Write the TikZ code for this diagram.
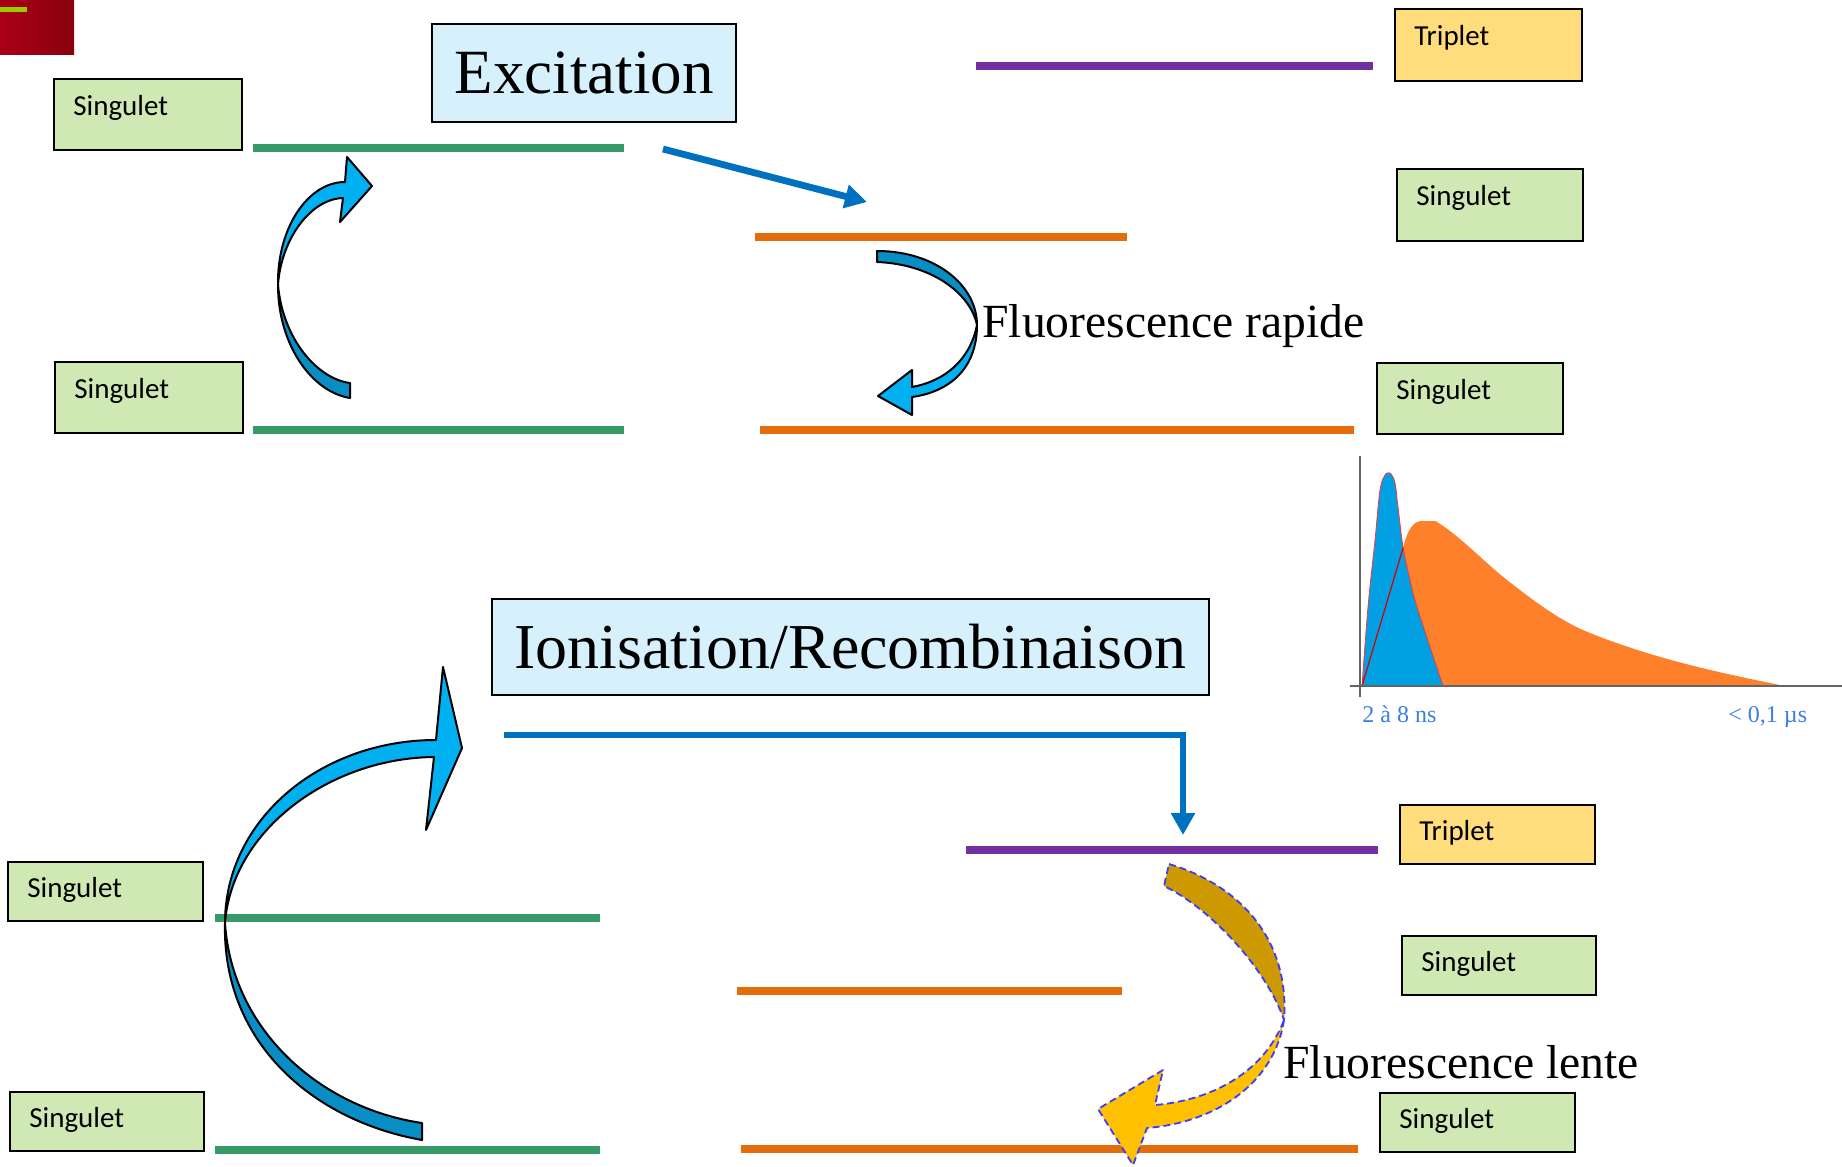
\documentclass[tikz,border=0pt]{standalone}
\usepackage{fontspec}
\setmainfont{Liberation Serif}
\newfontfamily\carl{Carlito}
\usetikzlibrary{arrows.meta}
\definecolor{lvlgreen}{RGB}{55,155,105}
\definecolor{lvlorange}{RGB}{228,108,10}
\definecolor{lvlpurple}{RGB}{112,48,160}
\definecolor{boxgreen}{RGB}{208,233,180}
\definecolor{boxgold}{RGB}{255,221,125}
\definecolor{titleblue}{RGB}{214,241,251}
\definecolor{arrblue}{RGB}{0,112,192}
\definecolor{ribbright}{RGB}{0,176,240}
\definecolor{ribdark}{RGB}{8,142,196}
\definecolor{golddark}{RGB}{204,153,0}
\definecolor{goldbright}{RGB}{255,192,0}
\definecolor{dashblue}{RGB}{60,60,255}
\definecolor{chartblue}{RGB}{0,160,227}
\definecolor{chartorange}{RGB}{255,128,42}
\definecolor{labblue}{RGB}{60,125,230}
\definecolor{axisgray}{RGB}{100,100,100}
\definecolor{redA}{RGB}{170,0,22}
\definecolor{redB}{RGB}{138,0,12}
\definecolor{limebar}{RGB}{153,204,0}
\newcommand\lvlbox[8]{% name x y w h fill text baseline-offset
  \node[lbox, fill=#6, minimum width=#4*0.5pt, minimum height=#5*0.5pt, anchor=north west] (#1) at (#2,#3) {};
  \node[ltext, anchor=base west] (#1t) at ([shift={(20,#8)}]#1.north west) {#7};
}
\begin{document}
\begin{tikzpicture}[x=0.5pt,y=-0.5pt,
  lbox/.style={draw=black, line width=1pt, inner sep=0pt, rectangle},
  ltext/.style={inner sep=0pt, font=\carl\fontsize{14.5}{17}\selectfont},
  titlebox/.style={draw=black, line width=1pt, fill=titleblue, inner sep=0pt, rectangle},
  lvl/.style={line width=3.9pt},
  barrow/.style={draw=arrblue, line width=3.4pt, -{Triangle[length=11pt,width=11.5pt]}},
  rib/.style={draw=black, line width=1pt, line join=round},
  gribbon/.style={draw=dashblue, line width=0.9pt, dash pattern=on 3.5pt off 2pt, line join=round},
  fluo/.style={inner sep=0pt, font=\fontsize{23.8}{28}\selectfont},
  clab/.style={inner sep=0pt, text=labblue, font=\fontsize{12}{14}\selectfont}
]
\useasboundingbox (0,0) rectangle (1842,1167);

% corner decoration
\shade[left color=redA, right color=redB] (0,0) rectangle (74,54);
\fill[limebar] (0,7) rectangle (27,12);

% ---------- level lines ----------
\draw[lvl, lvlgreen] (253,148) -- (624,148);
\draw[lvl, lvlgreen] (253,430) -- (624,430);
\draw[lvl, lvlgreen] (215,918) -- (600,918);
\draw[lvl, lvlgreen] (215,1150) -- (600,1150);
\draw[lvl, lvlorange] (755,237) -- (1127,237);
\draw[lvl, lvlorange] (760,430) -- (1354,430);
\draw[lvl, lvlorange] (737,991) -- (1122,991);
\draw[lvl, lvlorange] (741,1149) -- (1358,1149);
\draw[lvl, lvlpurple] (976,66) -- (1373,66);
\draw[lvl, lvlpurple] (966,850) -- (1378,850);

% ---------- boxes ----------
\lvlbox{sA}{53}{78}{188}{71}{boxgreen}{Singulet}{37}
\lvlbox{sB}{54}{361}{188}{71}{boxgreen}{Singulet}{37}
\lvlbox{trT}{1394}{8}{187}{72}{boxgold}{Triplet}{37}
\lvlbox{sRT}{1396}{168}{186}{72}{boxgreen}{Singulet}{37}
\lvlbox{sRM}{1376}{362}{186}{71}{boxgreen}{Singulet}{37}
\lvlbox{trB}{1399}{804}{195}{59}{boxgold}{Triplet}{36}
\lvlbox{sRBa}{1401}{935}{194}{59}{boxgreen}{Singulet}{36}
\lvlbox{sRBb}{1379}{1092}{195}{59}{boxgreen}{Singulet}{36}
\lvlbox{sLBa}{7}{861}{195}{59}{boxgreen}{Singulet}{36}
\lvlbox{sLBb}{9}{1091}{194}{59}{boxgreen}{Singulet}{36}

% titles
\node[titlebox, minimum width=152pt, minimum height=49pt, anchor=north west,
      font=\fontsize{31.5}{36}\selectfont] (exc) at (431,23) {Excitation};
\node[titlebox, minimum width=358.5pt, minimum height=48pt, anchor=north west,
      font=\fontsize{32}{36}\selectfont] (ion) at (491,598) {Ionisation/Recombinaison};

% ---------- straight arrows ----------
\coordinate (a1s) at (663,149);
\coordinate (a1e) at (867,202);
\draw[barrow] (a1s) -- (a1e);
\coordinate (a2s) at (504,735);
\coordinate (a2e) at (1183,835);
\draw[barrow] (a2s) -| (a2e);

% ---------- ribbon arrow: excitation ----------
\path[rib, fill=ribdark] (278,285) .. controls (278,345) and (312,392) .. (350,398)
  -- (350,383) .. controls (318,379) and (283,340) .. (278,285) -- cycle;
\path[rib, fill=ribbright] (278,285) .. controls (277,228) and (308,182) .. (345,182)
  -- (347,157) -- (372,186) -- (340,222) -- (343,198)
  .. controls (310,199) and (281,240) .. (278,285) -- cycle;

% ---------- ribbon arrow: fluorescence rapide ----------
\path[rib, fill=ribdark] (877,251) .. controls (935,251) and (977,285) .. (977,325)
  .. controls (970,292) and (930,264) .. (877,262) -- cycle;
\path[rib, fill=ribbright] (977,325) .. controls (977,370) and (948,392) .. (912,397)
  -- (912,415) -- (878,396) -- (912,370) -- (912,387)
  .. controls (945,381) and (970,360) .. (977,325) -- cycle;

% ---------- ribbon arrow: ionisation ----------
\path[rib, fill=ribdark] (225,923) .. controls (222,1040) and (310,1120) .. (422,1140)
  -- (422,1123) .. controls (320,1108) and (232,1030) .. (225,923) -- cycle;
\path[rib, fill=ribbright] (225,923) .. controls (225,820) and (320,740) .. (436,740)
  -- (443,667) -- (462,748) -- (426,830) -- (434,757)
  .. controls (330,758) and (232,830) .. (225,923) -- cycle;

% ---------- ribbon arrow: fluorescence lente ----------
\path[gribbon, fill=golddark] (1169,864) .. controls (1240,885) and (1290,940) .. (1284,1020)
  .. controls (1266,968) and (1210,908) .. (1164,886) -- cycle;
\path[gribbon, fill=goldbright] (1284,1020) .. controls (1275,1080) and (1220,1122) .. (1147,1128)
  -- (1133,1165) -- (1098,1109) -- (1163,1070) -- (1155,1105)
  .. controls (1215,1100) and (1265,1070) .. (1284,1020) -- cycle;

% labels
\node[fluo, anchor=base west] (fr) at (982,337) {Fluorescence rapide};
\node[fluo, anchor=base west] (fl) at (1283,1078) {Fluorescence lente};

% ---------- chart ----------
\fill[chartorange] (1362,686) -- (1403,548)
  .. controls (1408,528) and (1414,521) .. (1422,521) -- (1433,521)
  .. controls (1436,521) and (1437,521.5) .. (1437,522)
  .. controls (1460,536) and (1484,562) .. (1507,580)
  .. controls (1535,602) and (1562,622) .. (1590,633)
  .. controls (1655,659) and (1720,673) .. (1785,686)
  -- cycle;
\filldraw[fill=chartblue, draw=red!80, line width=0.4pt] (1362,686)
  -- plot[smooth, tension=0.6] coordinates {(1362,686) (1368,607) (1375,540) (1380,490) (1385,475) (1388,473)
   (1391,474) (1395,483) (1398,507) (1403,547) (1410,580) (1417,607) (1443,686)} -- cycle;
\draw[red!85!black, line width=0.6pt] (1362,686) -- (1403,548);
\draw[axisgray, line width=1pt] (1360,456) -- (1360,697);
\draw[axisgray, line width=1pt] (1350,686) -- (1842,686);
\node[clab, anchor=base west] (l1) at (1362,722) {2 à 8 ns};
\node[clab, anchor=base west] (l2) at (1728,722) {< 0,1 µs};
\end{tikzpicture}
\end{document}
